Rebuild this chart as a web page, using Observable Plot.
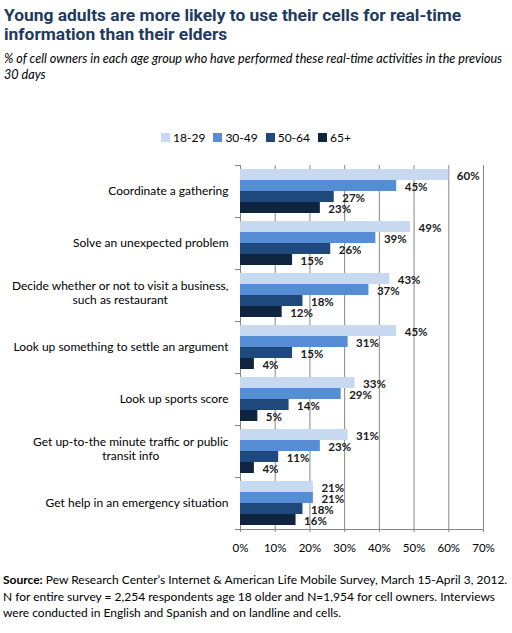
<!DOCTYPE html>
<html><head><meta charset="utf-8">
<script src="https://cdn.jsdelivr.net/npm/d3@7"></script>
<script src="https://cdn.jsdelivr.net/npm/@observablehq/plot@0.6"></script>
<style>
body{margin:0;background:#fff;}
#wrap{position:relative;width:512px;height:633px;overflow:hidden;font-family:Lato,"Open Sans",sans-serif;color:#000;}
#title{position:absolute;left:4px;top:6px;width:508px;font-family:"Liberation Sans Narrow","Roboto",sans-serif;font-weight:bold;font-size:17.4px;line-height:19px;color:#1f3a60;}
#sub{position:absolute;left:4px;top:51px;width:510px;font-style:italic;font-size:12.6px;line-height:16px;white-space:nowrap;}
#legend{position:absolute;left:0;top:130px;width:512px;display:flex;justify-content:center;font-size:12px;}
#legend .it{display:flex;align-items:center;margin:0 4px;}
#legend .sw{width:9px;height:9px;margin-right:3px;}
#chart{position:absolute;left:0;top:155px;}
#foot{position:absolute;left:3px;top:572px;width:512px;font-size:12px;line-height:16.5px;white-space:nowrap;}
</style></head><body><div id="wrap">
<div id="title">Young adults are more likely to use their cells for real-time<br>information than their elders</div>
<div id="sub">% of cell owners in each age group who have performed these real-time activities in the previous<br>30 days</div>
<div id="legend"></div>
<div id="chart"></div>
<div id="foot"><b>Source:</b> Pew Research Center’s Internet &amp; American Life Mobile Survey, March 15-April 3, 2012.<br>N for entire survey = 2,254 respondents age 18 older and N=1,954 for cell owners. Interviews<br>were conducted in English and Spanish and on landline and cells.</div>
</div>
<script>
const categories = [
  "Coordinate a gathering",
  "Solve an unexpected problem",
  "Decide whether or not to visit a business,\nsuch as restaurant",
  "Look up something to settle an argument",
  "Look up sports score",
  "Get up-to-the minute traffic or public\ntransit info",
  "Get help in an emergency situation"
];
const groups = ["18-29", "30-49", "50-64", "65+"];
const v18_29 = [60, 49, 43, 45, 33, 31, 21];
const v30_49 = [45, 39, 37, 31, 29, 23, 21];
const v50_64 = [27, 26, 18, 15, 14, 11, 18];
const v65plus = [23, 15, 12, 4, 5, 4, 16];
const colors = ["#c6d9f1", "#558ed5", "#1f497d", "#0f243e"];
const xTicks = [0, 10, 20, 30, 40, 50, 60, 70];

const series = [v18_29, v30_49, v50_64, v65plus];
const rows = [];
categories.forEach((c, i) => groups.forEach((g, j) => rows.push({cat: c, group: g, value: series[j][i]})));

// legend
const leg = document.getElementById("legend");
groups.forEach((g, j) => {
  const it = document.createElement("div"); it.className = "it";
  const sw = document.createElement("div"); sw.className = "sw"; sw.style.background = colors[j];
  const tx = document.createElement("span"); tx.textContent = g;
  it.appendChild(sw); it.appendChild(tx); leg.appendChild(it);
});

const chart = Plot.plot({
  width: 512, height: 405,
  marginLeft: 240, marginRight: 29, marginTop: 10, marginBottom: 31,
  style: {fontFamily: "Lato, 'Open Sans', sans-serif", fontSize: "12px", color: "#000", background: "transparent"},
  x: {domain: [0, 70]},
  y: {domain: groups, paddingInner: 0, paddingOuter: 0.36, axis: null},
  fy: {domain: categories, padding: 0},
  color: {domain: groups, range: colors},
  marks: [
    Plot.gridX(xTicks, {stroke: "#868686", strokeOpacity: 1}),
    Plot.frame({anchor: "top", stroke: "#868686", insetLeft: -5, insetRight: 243}),
    Plot.frame({anchor: "bottom", facetAnchor: "bottom", stroke: "#868686", insetLeft: -5}),
    Plot.barX(rows, {x: "value", y: "group", fy: "cat", fill: "group"}),
    Plot.text(rows, {x: "value", y: "group", fy: "cat", text: d => d.value + "%", textAnchor: "start", dx: 8, dy: 1.5, fontWeight: "bold", fontSize: 11.5, fill: "#1a1a1a"}),
    Plot.axisX(xTicks, {tickFormat: d => d + "%", tickSize: 3, tickPadding: 11, stroke: "#868686", label: null, fontSize: "11.5px"}),
    Plot.axisFy({anchor: "left", tickSize: 0, tickPadding: 12, label: null})
  ]
});
document.getElementById("chart").appendChild(chart);

// center multi-line category labels like the original
chart.querySelectorAll('g[aria-label="fy-axis tick label"] text').forEach(t => {
  const spans = t.querySelectorAll("tspan");
  if (spans.length > 1) {
    let maxW = 0;
    spans.forEach(s => { maxW = Math.max(maxW, s.getComputedTextLength()); });
    t.setAttribute("text-anchor", "middle");
    t.removeAttribute("dy");
    const lh = 1.2, n = spans.length;
    spans.forEach((s, k) => {
      s.setAttribute("x", -maxW / 2);
      s.setAttribute("dy", k === 0 ? `${0.32 - (n - 1) * lh / 2}em` : `${lh}em`);
    });
  }
});
</script>
</body></html>
